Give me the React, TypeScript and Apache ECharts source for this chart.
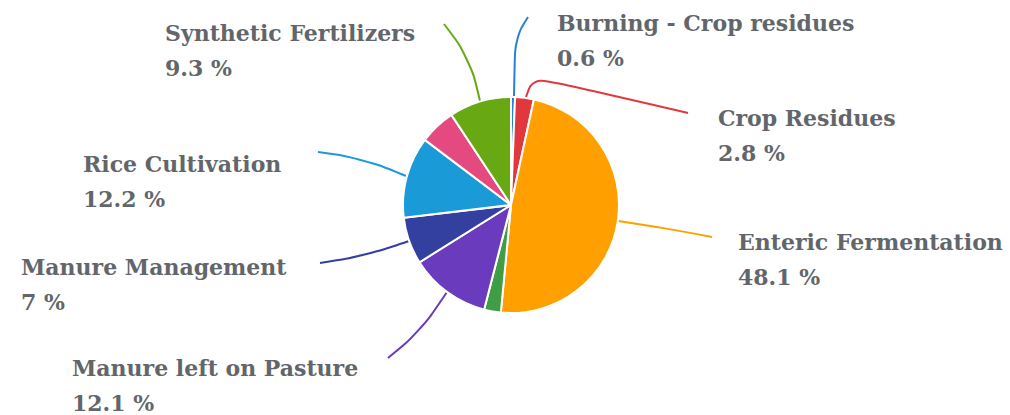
import React, { useEffect, useRef } from "react";
import * as echarts from "echarts";

const categories = [
  "Burning - Crop residues",
  "Crop Residues",
  "Enteric Fermentation",
  "Manure applied to Soils",
  "Manure left on Pasture",
  "Manure Management",
  "Rice Cultivation",
  "Cultivation of Organic Soils",
  "Synthetic Fertilizers",
];
const values = [0.6, 2.8, 48.1, 2.5, 12.1, 7, 12.2, 5.4, 9.3];
const labelled = [true, true, true, false, true, true, true, false, true];

const palette = [
  "#2b7fd6",
  "#e0383c",
  "#ffa000",
  "#3f9d45",
  "#6a3bbd",
  "#34409f",
  "#1a9ad6",
  "#e44a80",
  "#68a812",
];

const FONT = "DejaVu Serif";

// label block top-left and guide line points (layout only)
const labelLayoutTable: Record<string, { x: number; y: number; line: number[][] }> = {
  "Burning - Crop residues": { x: 557, y: 5, line: [[514, 98], [515, 38], [528, 17]] },
  "Crop Residues": { x: 718, y: 100, line: [[526, 97], [533, 77], [688, 113]] },
  "Enteric Fermentation": { x: 738, y: 224, line: [[618, 221], [665, 228], [712, 237]] },
  "Manure left on Pasture": { x: 72, y: 350, line: [[447, 292], [420, 332], [388, 358]] },
  "Manure Management": { x: 21, y: 249, line: [[409, 241], [365, 256], [320, 263]] },
  "Rice Cultivation": { x: 83, y: 146, line: [[406, 176], [362, 158], [318, 152]] },
  "Synthetic Fertilizers": { x: 165, y: 15, line: [[480, 101], [470, 58], [444, 24]] },
};

export default function App() {
  const ref = useRef<HTMLDivElement>(null);
  useEffect(() => {
    if (!ref.current) return;
    const chart = echarts.init(ref.current, null, { renderer: "svg" });
    const labelStyle = {
      fontFamily: FONT,
      fontWeight: "bold",
      fontSize: 22,
      lineHeight: 35,
      color: "#62666b",
    };
    const data = categories.map((name, i) => ({
      name,
      value: values[i],
      itemStyle: { color: palette[i] },
      label: { show: labelled[i] },
      labelLine: { show: labelled[i] },
    }));
    chart.setOption({
      animation: false,
      backgroundColor: "#ffffff",
      series: [
        {
          type: "pie",
          center: [511, 205],
          radius: 108,
          startAngle: 90,
          clockwise: true,
          avoidLabelOverlap: false,
          itemStyle: { borderColor: "#ffffff", borderWidth: 2 },
          label: {
            position: "outside",
            alignTo: "none",
            formatter: "{b}\n{c} %",
            ...labelStyle,
          },
          labelLine: { show: true, smooth: 0.4, lineStyle: { width: 2 } },
          labelLayout: (params: any) => {
            const name = categories[params.dataIndex];
            const p = labelLayoutTable[name];
            if (!p) return {};
            return {
              x: p.x,
              y: p.y,
              align: "left",
              verticalAlign: "top",
              labelLinePoints: p.line,
            };
          },
          emphasis: { disabled: true },
          data,
        },
      ],
    });
    return () => chart.dispose();
  }, []);
  return (
    <div
      ref={ref}
      style={{ position: "absolute", left: 0, top: 0, width: 1010, height: 415 }}
    />
  );
}
